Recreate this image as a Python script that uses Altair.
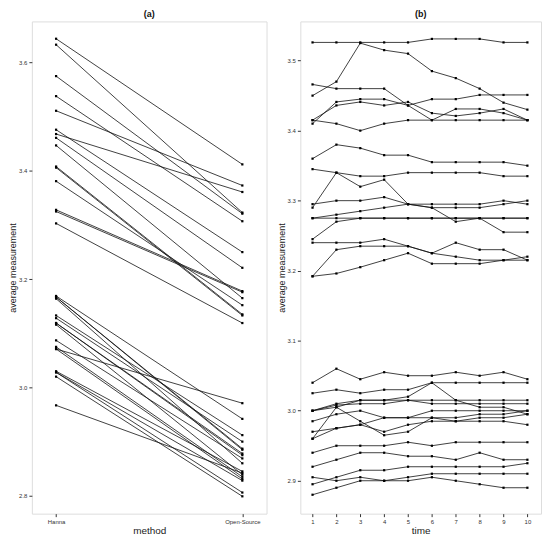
import altair as alt
import pandas as pd

# ---------------- panel (a): paired method comparison ----------------
methods = ["Hanna", "Open-Source"]
hanna = [3.644, 3.633, 3.575, 3.538, 3.511, 3.476, 3.468, 3.461, 3.447, 3.408, 3.406,
         3.381, 3.328, 3.325, 3.303,
         3.169, 3.167, 3.167, 3.164, 3.133, 3.128, 3.119, 3.119, 3.116, 3.087, 3.075,
         3.071, 3.071, 3.030, 3.028, 3.028, 3.020, 2.967]
open_source = [3.412, 3.323, 3.321, 3.307, 3.373, 3.250, 3.361, 3.221, 3.165, 3.135, 3.133,
               3.152, 3.178, 3.176, 3.119,
               2.942, 2.887, 2.885, 2.860, 2.912, 2.900, 2.878, 2.875, 2.839, 2.869, 2.835,
               2.971, 2.831, 2.845, 2.828, 2.806, 2.799, 2.842]
ticks_a = [2.8, 3.0, 3.2, 3.4, 3.6]

# ---------------- panel (b): measurements over time ----------------
times = [1, 2, 3, 4, 5, 6, 7, 8, 9, 10]
b01 = [3.526, 3.526, 3.526, 3.526, 3.526, 3.531, 3.531, 3.531, 3.526, 3.526]
b02 = [3.450, 3.470, 3.525, 3.515, 3.510, 3.485, 3.475, 3.460, 3.440, 3.430]
b03 = [3.466, 3.460, 3.460, 3.460, 3.436, 3.415, 3.431, 3.431, 3.425, 3.415]
b04 = [3.415, 3.436, 3.441, 3.436, 3.441, 3.425, 3.421, 3.425, 3.431, 3.415]
b05 = [3.410, 3.441, 3.445, 3.445, 3.436, 3.445, 3.445, 3.451, 3.451, 3.451]
b06 = [3.415, 3.410, 3.400, 3.410, 3.415, 3.415, 3.415, 3.415, 3.415, 3.415]
b07 = [3.360, 3.380, 3.375, 3.365, 3.365, 3.355, 3.355, 3.355, 3.355, 3.350]
b08 = [3.345, 3.340, 3.335, 3.335, 3.340, 3.340, 3.340, 3.340, 3.335, 3.335]
b09 = [3.290, 3.340, 3.320, 3.330, 3.295, 3.290, 3.270, 3.275, 3.255, 3.255]
b10 = [3.295, 3.300, 3.300, 3.305, 3.295, 3.295, 3.295, 3.295, 3.300, 3.295]
b11 = [3.275, 3.280, 3.285, 3.290, 3.295, 3.290, 3.290, 3.290, 3.295, 3.300]
b12 = [3.275, 3.275, 3.275, 3.275, 3.275, 3.275, 3.275, 3.275, 3.275, 3.275]
b13 = [3.245, 3.270, 3.275, 3.275, 3.275, 3.275, 3.275, 3.275, 3.275, 3.275]
b14 = [3.240, 3.240, 3.240, 3.245, 3.235, 3.225, 3.240, 3.230, 3.230, 3.215]
b15 = [3.192, 3.230, 3.235, 3.235, 3.235, 3.225, 3.220, 3.215, 3.215, 3.220]
b16 = [3.192, 3.196, 3.205, 3.215, 3.225, 3.210, 3.210, 3.210, 3.215, 3.215]
b17 = [3.040, 3.060, 3.045, 3.055, 3.050, 3.050, 3.055, 3.050, 3.055, 3.045]
b18 = [3.025, 3.030, 3.025, 3.030, 3.030, 3.040, 3.040, 3.040, 3.040, 3.040]
b19 = [3.000, 3.010, 3.015, 3.015, 3.020, 3.040, 3.015, 3.005, 3.005, 2.995]
b20 = [3.000, 3.005, 3.015, 3.015, 3.015, 3.015, 3.015, 3.015, 3.015, 3.015]
b21 = [3.000, 3.008, 3.010, 3.010, 3.015, 3.010, 3.010, 3.010, 3.010, 3.010]
b22 = [2.985, 2.995, 3.000, 2.990, 2.990, 3.000, 3.000, 3.000, 3.000, 3.000]
b23 = [2.970, 2.975, 2.980, 2.970, 2.980, 2.985, 2.985, 2.985, 2.985, 2.980]
b24 = [2.960, 3.005, 2.985, 2.965, 2.970, 2.990, 2.985, 2.990, 2.990, 2.995]
b25 = [2.960, 2.975, 2.980, 2.990, 2.990, 2.990, 2.990, 2.995, 2.995, 3.000]
b26 = [2.940, 2.950, 2.950, 2.950, 2.955, 2.950, 2.955, 2.955, 2.955, 2.955]
b27 = [2.920, 2.930, 2.940, 2.940, 2.935, 2.935, 2.930, 2.940, 2.930, 2.930]
b28 = [2.895, 2.905, 2.915, 2.915, 2.920, 2.920, 2.920, 2.920, 2.920, 2.925]
b29 = [2.905, 2.900, 2.905, 2.900, 2.900, 2.905, 2.900, 2.895, 2.890, 2.890]
b30 = [2.880, 2.890, 2.900, 2.900, 2.905, 2.910, 2.910, 2.910, 2.910, 2.910]
series_b = [b01, b02, b03, b04, b05, b06, b07, b08, b09, b10, b11, b12, b13, b14, b15,
            b16, b17, b18, b19, b20, b21, b22, b23, b24, b25, b26, b27, b28, b29, b30]
ticks_b = [2.9, 3.0, 3.1, 3.2, 3.3, 3.4, 3.5]

# ---------------- tables ----------------
rows_a = []
for i, (h, o) in enumerate(zip(hanna, open_source)):
    rows_a.append({"id": i, "method": methods[0], "value": h})
    rows_a.append({"id": i, "method": methods[1], "value": o})
df_a = pd.DataFrame(rows_a)

rows_b = []
for i, s in enumerate(series_b):
    for t, v in zip(times, s):
        rows_b.append({"id": i, "time": t, "value": v})
df_b = pd.DataFrame(rows_b)

FONT = "Liberation Sans"
axis_common = dict(labelFont=FONT, labelFontSize=6, labelColor="#333333",
                   tickColor="#333333", tickSize=3, domain=False, grid=False,
                   titleFont=FONT, titleFontWeight="normal", titleColor="#222222")

x_a = alt.X("method:N", sort=methods,
            scale=alt.Scale(type="point", padding=0.13),
            axis=alt.Axis(title="method", labelAngle=0, titleFontSize=10,
                          labelPadding=2, titlePadding=1, **axis_common))
y_a = alt.Y("value:Q", scale=alt.Scale(domain=[2.767, 3.676], nice=False, zero=False),
            axis=alt.Axis(title="average measurement", values=ticks_a, format=".1f",
                          titleFontSize=9, labelPadding=2, titlePadding=1, **axis_common))

base_a = alt.Chart(df_a)
lines_a = base_a.mark_line(color="#111111", strokeWidth=0.8).encode(x=x_a, y=y_a, detail="id:N")
pts_a = base_a.mark_point(shape="square", filled=True, size=5, color="#000000", opacity=1).encode(x=x_a, y=y_a)
chart_a = (lines_a + pts_a).properties(
    width=236, height=495,
    title=alt.TitleParams("(a)", font=FONT, fontSize=9, fontWeight="bold", offset=2, color="#111111"))

x_b = alt.X("time:Q", scale=alt.Scale(domain=[0.49, 10.57], nice=False),
            axis=alt.Axis(title="time", values=times, format="d", titleFontSize=10,
                          labelPadding=2, titlePadding=1, **axis_common))
y_b = alt.Y("value:Q", scale=alt.Scale(domain=[2.853, 3.556], nice=False, zero=False),
            axis=alt.Axis(title="average measurement", values=ticks_b, format=".1f",
                          titleFontSize=9, labelPadding=2, titlePadding=1, **axis_common))

base_b = alt.Chart(df_b)
lines_b = base_b.mark_line(color="#111111", strokeWidth=0.8).encode(x=x_b, y=y_b, detail="id:N")
pts_b = base_b.mark_point(shape="square", filled=True, size=5, color="#000000", opacity=1).encode(x=x_b, y=y_b)
chart_b = (lines_b + pts_b).properties(
    width=242, height=495,
    title=alt.TitleParams("(b)", font=FONT, fontSize=9, fontWeight="bold", offset=2, color="#111111"))

chart = alt.hconcat(chart_a, chart_b, spacing=9).properties(
    padding={"left": 0, "top": 0, "right": 0, "bottom": 0}
).configure_view(stroke="#444444", strokeWidth=1.3).configure(background="white")

chart.save("out.html", embed_options={"renderer": "svg", "actions": False})
